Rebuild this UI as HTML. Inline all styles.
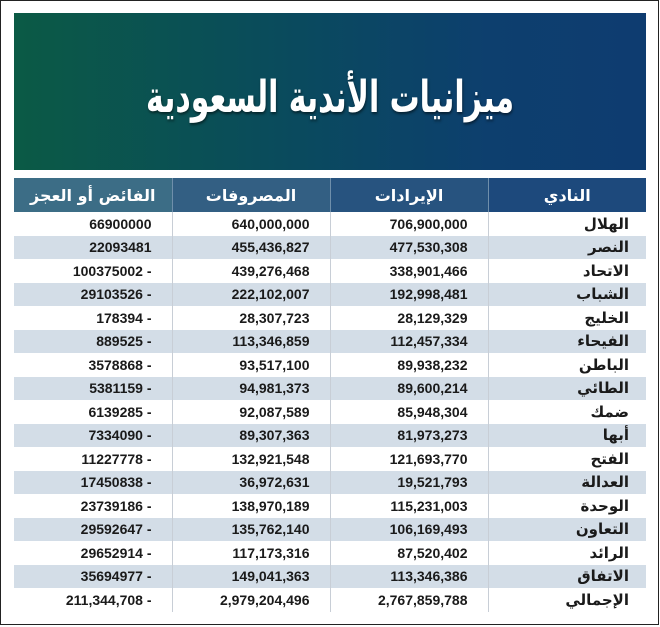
<!DOCTYPE html>
<html><head><meta charset="utf-8"><style>
html,body{margin:0;padding:0;background:#fff;}
body{width:660px;height:627px;position:relative;overflow:hidden;font-family:"Liberation Sans","DejaVu Sans",sans-serif;}
.frame{position:absolute;left:0;top:0;width:657px;height:623px;border:1.5px solid #222;}
.banner{position:absolute;left:14px;top:13px;width:632px;height:157px;background:linear-gradient(90deg,#0b5a45 0%,#0a4a5e 45%,#0d3f6e 75%,#0e3c70 100%);}
.banner div{position:absolute;left:0;right:0;top:60px;text-align:center;color:#fff;font-size:44px;line-height:50px;font-weight:bold;font-family:"DejaVu Sans",sans-serif;direction:rtl;text-shadow:1px 2px 3px rgba(0,0,0,.5);transform:scaleX(0.68);}
table{position:absolute;left:14px;top:178px;width:632px;border-collapse:collapse;table-layout:fixed;}
th{height:34px;padding:0;color:#fff;font-size:16px;font-weight:bold;font-family:"DejaVu Sans",sans-serif;direction:rtl;border-left:1px solid #6f8fab;}
th:first-child{border-left:none}
td{height:23.53px;padding:0;font-size:14px;font-weight:bold;color:#1a1a1a;text-align:right;border-left:1px solid #c8ced6;}
td:first-child{border-left:none}
td.n{padding-right:20px;direction:ltr}
td.c{padding-right:17px;direction:rtl;font-family:"DejaVu Sans",sans-serif;font-size:15px}
tr.b td{background:#d3dde7}
</style></head><body>
<div class="frame"></div>
<div class="banner"><div>ميزانيات الأندية السعودية</div></div>
<table>
<colgroup><col style="width:158px"><col style="width:158px"><col style="width:158px"><col style="width:158px"></colgroup>
<tr><th style="background:#3c6d86">الفائض أو العجز</th><th style="background:#335f83">المصروفات</th><th style="background:#27537f">الإيرادات</th><th style="background:#1d497c">النادي</th></tr>
<tr><td class="n">66900000</td><td class="n">640,000,000</td><td class="n">706,900,000</td><td class="c">الهلال</td></tr>
<tr class="b"><td class="n">22093481</td><td class="n">455,436,827</td><td class="n">477,530,308</td><td class="c">النصر</td></tr>
<tr><td class="n">100375002 -</td><td class="n">439,276,468</td><td class="n">338,901,466</td><td class="c">الاتحاد</td></tr>
<tr class="b"><td class="n">29103526 -</td><td class="n">222,102,007</td><td class="n">192,998,481</td><td class="c">الشباب</td></tr>
<tr><td class="n">178394 -</td><td class="n">28,307,723</td><td class="n">28,129,329</td><td class="c">الخليج</td></tr>
<tr class="b"><td class="n">889525 -</td><td class="n">113,346,859</td><td class="n">112,457,334</td><td class="c">الفيحاء</td></tr>
<tr><td class="n">3578868 -</td><td class="n">93,517,100</td><td class="n">89,938,232</td><td class="c">الباطن</td></tr>
<tr class="b"><td class="n">5381159 -</td><td class="n">94,981,373</td><td class="n">89,600,214</td><td class="c">الطائي</td></tr>
<tr><td class="n">6139285 -</td><td class="n">92,087,589</td><td class="n">85,948,304</td><td class="c">ضمك</td></tr>
<tr class="b"><td class="n">7334090 -</td><td class="n">89,307,363</td><td class="n">81,973,273</td><td class="c">أبها</td></tr>
<tr><td class="n">11227778 -</td><td class="n">132,921,548</td><td class="n">121,693,770</td><td class="c">الفتح</td></tr>
<tr class="b"><td class="n">17450838 -</td><td class="n">36,972,631</td><td class="n">19,521,793</td><td class="c">العدالة</td></tr>
<tr><td class="n">23739186 -</td><td class="n">138,970,189</td><td class="n">115,231,003</td><td class="c">الوحدة</td></tr>
<tr class="b"><td class="n">29592647 -</td><td class="n">135,762,140</td><td class="n">106,169,493</td><td class="c">التعاون</td></tr>
<tr><td class="n">29652914 -</td><td class="n">117,173,316</td><td class="n">87,520,402</td><td class="c">الرائد</td></tr>
<tr class="b"><td class="n">35694977 -</td><td class="n">149,041,363</td><td class="n">113,346,386</td><td class="c">الاتفاق</td></tr>
<tr><td class="n">211,344,708 -</td><td class="n">2,979,204,496</td><td class="n">2,767,859,788</td><td class="c">الإجمالي</td></tr>
</table>
</body></html>
